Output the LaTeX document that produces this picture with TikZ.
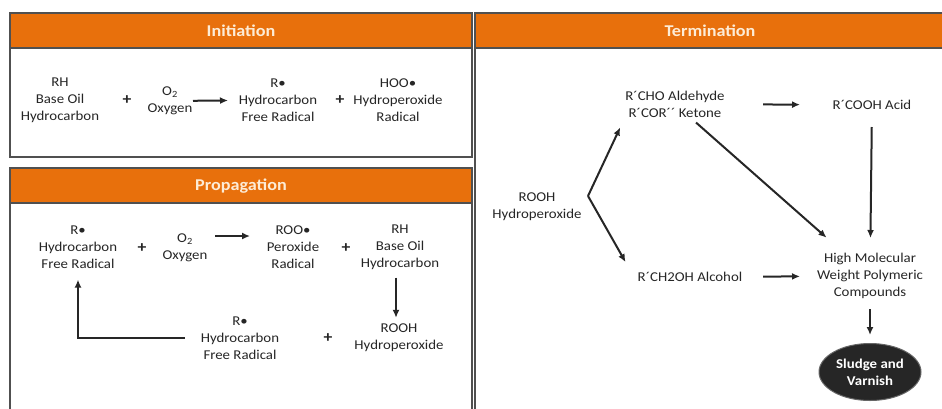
\documentclass[tikz,border=0pt]{standalone}
\usepackage{fontspec}
\setmainfont{Carlito}[FakeStretch=1.1]
\usetikzlibrary{shapes.geometric, arrows.meta}

\definecolor{headorange}{RGB}{232,112,12}
\definecolor{headtext}{RGB}{253,236,214}
\definecolor{frame}{RGB}{80,80,80}

\begin{document}
\begin{tikzpicture}[x=1pt, y=-1pt,
			base/.style={font=\fontsize{13.5}{17}\selectfont, text=black!85, inner sep=2pt},
			chem/.style={base, align=center},
			plus/.style={base, font=\fontsize{16}{17}\selectfont\bfseries},
			panel/.style={draw=frame, line width=1.2pt, fill=white},
			header/.style={draw=frame, line width=1.2pt, fill=headorange},
			headtitle/.style={font=\fontsize{16.5}{17}\selectfont\bfseries, text=headtext},
			arr/.style={-{Latex[length=8pt, width=7pt]}, line width=2pt, black!85},
			blob/.style={ellipse, fill=black!85, draw=black!60, line width=1pt, minimum width=102pt, minimum height=57pt, inner sep=0pt, font=\fontsize{13.5}{17}\selectfont\bfseries, text=white, align=center},
		]

		\useasboundingbox (0,0) rectangle (942,408);
		\clip (0,0) rectangle (942,408);

		% panels
		\draw[panel] (10,13) rectangle (472,157);
		\draw[header] (10,13) rectangle (472,48);
		\node[headtitle] (t-init) at (241,31) {Initiation};

		\draw[panel] (10,420) |- (472,168) -- (472,420);
		\draw[header] (10,168) rectangle (472,203);
		\node[headtitle] (t-prop) at (241,186) {Propagation};

		\draw[panel] (475,420) |- (950,13);
		\draw[header] (475,13) rectangle (950,48);
		\node[headtitle] (t-term) at (710,31) {Termination};

		% initiation
		\node[chem] (rh-a) at (60,100) {RH\\Base Oil\\Hydrocarbon};
		\node[plus] (plus-a) at (127,100) {+};
		\node[chem] (oxy-a) at (170,101) {O\textsubscript{2}\\Oxygen};
		\node[chem] (rad-a) at (278,100) {R•\\Hydrocarbon\\Free Radical};
		\node[plus] (plus-b) at (340,100) {+};
		\node[chem] (hoo) at (398,100) {HOO•\\Hydroperoxide\\Radical};

		\draw[arr] (oxy-a.center) -- (rad-a.center) [shorten <=23pt, shorten >=50pt];

		% propagation
		\node[chem] (rad-b) at (78,247) {R•\\Hydrocarbon\\Free Radical};
		\node[plus] (plus-c) at (142,248) {+};
		\node[chem] (oxy-b) at (185,248) {O\textsubscript{2}\\Oxygen};
		\node[chem] (roo) at (293,247) {ROO•\\Peroxide\\Radical};
		\node[plus] (plus-d) at (346,248) {+};
		\node[chem] (rh-b) at (400,247) {RH\\Base Oil\\Hydrocarbon};
		\node[chem] (rooh-b) at (399,338) {ROOH\\Hydroperoxide};
		\node[plus] (plus-e) at (328,338) {+};
		\node[chem] (rad-c) at (240,338) {R•\\Hydrocarbon\\Free Radical};

		\draw[arr] ([yshift=12pt]oxy-b.center) -- ([yshift=11pt]roo.center) [shorten <=30pt, shorten >=43pt];
		\draw[arr] ([xshift=-4pt]rh-b.south) -- ([xshift=-4pt]rh-b.south |- rooh-b.north) [shorten <=6pt, shorten >=4pt];
		\draw[arr] (rad-c.west) -| (rad-b.south) [shorten <=14pt, shorten >=9pt];

		% termination
		\node[chem] (rooh-c) at (537,207) {ROOH\\Hydroperoxide};
		\coordinate (fork) at (588,196);
		\node[chem] (ald) at (675,104) {R´CHO Aldehyde\\R´COR´´ Ketone};
		\node[chem] (acid) at (872,105) {R´COOH Acid};
		\node[chem] (alc) at (690,277) {R´CH2OH Alcohol};
		\node[chem] (hmw) at (870,276) {High Molecular\\Weight Polymeric\\Compounds};
		\node[blob] (sludge) at (870,372) {Sludge and\\Varnish};

		\draw[arr] (fork) -- ([shift={(-3,8)}]ald.south west);
		\draw[arr] (fork) -- ([shift={(-10,-8)}]alc.north west);
		\draw[arr] (ald.center) -- (acid.center) [shorten <=88pt, shorten >=72pt];
		\draw[arr] (ald.center) -- (hmw.center) [shorten <=28pt, shorten >=58pt];
		\draw[arr] (acid.center) -- (hmw.center) [shorten <=22pt, shorten >=38pt];
		\draw[arr] (alc.center) -- (hmw.center) [shorten <=73pt, shorten >=70pt];
		\draw[arr] (hmw.center) -- (sludge.center) [shorten <=33pt, shorten >=37pt];

\end{tikzpicture}
\end{document}
